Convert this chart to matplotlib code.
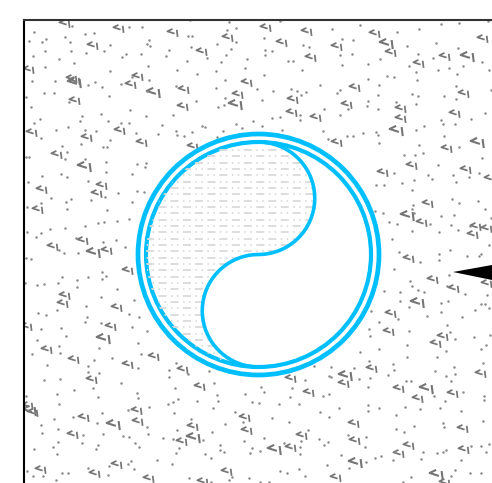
import numpy as np
import matplotlib
matplotlib.use("Agg")
import matplotlib.pyplot as plt
from matplotlib.markers import MarkerStyle
from matplotlib.patches import Circle, PathPatch, Polygon
from matplotlib.path import Path
from matplotlib.transforms import Affine2D

plt.rcParams['lines.scale_dashes'] = False

small_marks = [
    (65,23),(119,28),(93,45),(29,69),(75,80),(72,78),(138,76),(131,84),(75,100),(32,132),(87,137),(120,130),(142,142),(57,154),
    (173,32),(202,51),(228,37),(266,27),(282,42),(307,31),(311,57),(184,89),(183,106),(247,82),(238,94),(293,99),(292,112),(316,117),(193,146),
    (337,46),(375,33),(391,52),(419,63),(445,56),(483,38),(355,87),(347,104),(401,108),(401,118),(464,93),(455,113),(447,148),(337,142),
    (102,185),(97,193),(42,189),(38,209),(53,246),(83,240),(107,250),(128,270),(65,295),(63,303),(117,307),
    (412,165),(383,172),(466,169),(490,178),(428,203),(422,222),(476,226),(487,228),(473,234),(409,258),(433,279),(454,288),(487,283),(391,313),
    (27,326),(111,326),(47,349),(74,359),(128,364),(154,356),(92,379),(28,405),(33,412),(84,417),(137,410),(138,421),(73,434),(117,464),(41,469),(95,473),(149,478),
    (183,369),(200,386),(291,378),(309,392),(245,417),(193,426),(182,441),(247,430),(291,447),(302,435),(227,471),(203,481),
    (389,331),(443,336),(436,343),(372,368),(481,373),(344,383),(399,388),(418,398),(453,393),(354,423),(463,428),(355,440),(409,445),(399,453),(464,449),(336,477),(445,482),
]
large_marks = [
    (75,82),(154,92),(85,166),(236,104),(468,56),(387,43),(397,130),(478,142),(408,215),(418,302),(94,252),(104,338),(114,424),(30,410),
    (194,437),(275,449),(346,375),(427,388),(356,462),(437,474),
]
dots = [
    (34,32),(29,41),(42,42),(46,39),(65,37),(70,42),(85,34),(94,33),(72,26),(129,27),(142,27),(45,51),(71,51),(86,53),(104,51),(110,45),(122,57),(126,54),(141,54),(149,40),(147,44),(150,46),(33,56),(59,59),(74,63),(45,67),(110,71),(148,66),(32,81),(55,81),(88,85),(95,82),(102,87),(121,84),(149,80),(132,77),(44,93),(54,93),(109,96),(147,91),(26,97),(31,107),(69,102),(130,110),(82,116),(80,121),(101,114),(108,121),(121,123),(129,123),(146,116),(40,119),(34,123),(56,130),(68,127),(85,130),(96,131),(136,133),(158,134),(41,138),(81,144),(110,140),(62,146),(67,152),(103,147),(107,147),(29,157),(26,157),(65,159),(85,159),
    (227,30),(236,28),(188,36),(192,36),(236,42),(217,44),(191,47),(231,49),(169,50),(166,56),(207,58),(226,55),(187,61),(221,62),(247,59),(264,38),(265,50),(265,55),(272,51),(303,45),(309,47),(288,61),(293,61),(245,68),(177,70),(216,71),(197,74),(264,75),(302,70),(225,80),(176,86),(216,88),(257,89),(273,91),(291,89),(297,91),(301,95),(306,92),(320,85),(225,98),(262,100),(196,101),(218,107),(224,105),(173,115),(324,109),(300,115),(300,120),(280,117),(272,118),(253,121),(262,126),(236,124),(242,128),(162,125),(202,126),(205,127),(176,131),(177,135),(184,136),(192,132),(223,131),(217,137),(282,130),(323,131),(328,139),(190,20),(229,22),(280,21),
    (332,29),(360,25),(397,32),(419,29),(441,24),(459,23),(342,39),(353,40),(407,46),(436,43),(458,48),(340,55),(352,54),(380,59),(418,54),(433,58),(342,65),(368,64),(409,66),(416,72),(438,70),(449,68),(457,74),(463,66),(482,62),(489,70),(368,79),(387,76),(394,77),(417,80),(379,85),(456,86),(340,90),(337,93),(491,90),(378,95),(412,94),(418,96),(444,96),(456,99),(368,101),(367,106),(396,102),(416,104),(348,109),(378,109),(340,115),(485,113),(441,120),(443,124),(455,124),(471,119),(424,126),(416,130),(347,136),(353,136),(363,133),(376,132),(378,135),(444,136),(379,143),(419,145),(459,147),(404,155),(415,155),(423,153),(482,158),(488,21),
    (42,176),(61,174),(67,177),(28,182),(88,181),(106,162),(106,172),(132,174),(137,164),(146,163),(145,167),(137,191),(144,192),(118,193),(51,198),(66,202),(71,199),(91,200),(105,197),(132,202),(41,203),(67,209),(107,210),(27,207),(129,219),(117,221),(98,223),(104,222),(85,226),(65,228),(50,229),(27,232),(41,233),(36,237),(76,238),(116,240),(103,242),(125,247),(59,250),(64,253),(78,253),(26,258),(31,259),(102,272),(106,276),(102,279),(88,277),(62,277),(77,280),(77,287),(58,283),(44,284),(37,285),(25,283),(117,289),(101,297),(134,300),(86,306),(38,313),(46,315),(57,310),(87,317),(129,314),(139,317),
    (438,165),(394,173),(428,175),(432,179),(453,175),(456,182),(469,177),(479,173),(376,185),(384,185),(402,183),(414,180),(412,190),(452,199),(459,203),(478,201),(485,209),(413,205),(412,209),(375,211),(383,213),(414,213),(441,216),(454,215),(491,218),(389,222),(397,224),(430,224),(451,225),(470,226),(412,231),(439,232),(458,230),(392,239),(489,245),(450,250),(399,252),(439,254),(467,256),(479,256),(481,254),(439,260),(420,262),(394,269),(449,275),(410,281),(412,286),(447,286),(418,290),(424,292),(384,291),(400,292),(465,294),(487,295),(400,301),(441,303),(448,301),(409,307),(371,311),(441,312),(427,316),(481,304),(485,304),(475,310),(489,308),(462,317),(398,319),
    (41,329),(61,328),(85,322),(101,323),(132,327),(147,331),(37,340),(66,336),(59,346),(99,348),(138,343),(32,354),(60,353),(112,358),(141,354),(94,360),(47,365),(88,366),(138,368),(88,372),(99,373),(44,380),(60,379),(121,383),(93,388),(74,390),(57,394),(137,393),(138,398),(98,397),(26,396),(59,404),(149,407),(128,410),(102,413),(54,419),(73,417),(97,423),(41,425),(58,429),(147,427),(42,433),(83,435),(103,434),(123,436),(129,437),(148,434),(82,443),(58,442),(53,447),(98,445),(96,449),(135,443),(139,447),(34,449),(57,454),(157,460),(131,461),(128,464),(109,466),(134,469),(88,468),(27,471),(33,476),(43,476),(62,473),(68,473),(108,475),(56,480),
    (176,363),(169,370),(169,377),(188,374),(209,371),(214,383),(175,388),(217,395),(218,401),(178,399),(173,402),(168,404),(197,401),(213,408),(174,413),(191,419),(225,424),(235,412),(245,394),(252,402),(259,403),(261,387),(264,392),(292,388),(305,380),(314,366),(329,376),(290,397),(323,396),(329,394),(279,404),(299,404),(320,412),(329,417),(272,418),(289,422),(243,422),(177,430),(212,432),(308,430),(163,438),(173,439),(203,440),(264,438),(244,441),(301,441),(319,439),(328,442),(324,445),(179,448),(220,445),(220,450),(224,452),(252,448),(250,453),(260,451),(284,443),(300,447),(176,453),(205,454),(211,458),(300,454),(172,464),(327,465),(299,469),(280,471),(287,473),(305,476),(232,477),(229,480),(249,478),(189,478),(211,482),(260,482),(269,482),
    (369,329),(370,336),(379,322),(409,331),(447,325),(450,332),(455,339),(474,337),(490,335),(407,345),(486,345),(481,349),(446,351),(360,352),(379,349),(407,357),(437,357),(369,361),(483,363),(354,368),(393,364),(394,370),(435,371),(454,367),(455,374),(331,367),(331,377),(370,378),(388,375),(446,376),(359,379),(406,381),(411,381),(451,381),(368,387),(463,392),(434,396),(445,401),(484,396),(484,400),(368,405),(339,408),(368,411),(379,408),(405,407),(420,409),(440,408),(461,411),(396,415),(483,421),(443,423),(444,427),(396,429),(404,432),(414,426),(348,435),(366,437),(365,447),(481,446),(489,444),(471,446),(486,452),(446,450),(443,452),(437,453),(423,452),(421,459),(341,455),(375,458),(381,456),(395,452),(393,460),(366,462),(461,460),(349,468),(455,470),(470,473),(481,473),(451,476),(411,477),(403,482),
]
pointer = [(453,272),(492,265),(492,280)]

cx, cy = 258.5, 254.5
r_outer, r_inner = 120.5, 112.5
blue = '#00bfff'

fig = plt.figure(figsize=(4.92, 4.83), dpi=100)
ax = fig.add_axes([24/492, 0, 468/492, 463.5/483])
ax.set_xlim(24, 492)
ax.set_ylim(483, 19.5)
ax.set_xticks([])
ax.set_yticks([])
for side in ['right', 'bottom']:
    ax.spines[side].set_visible(False)
ax.spines['left'].set_linewidth(1.5)
ax.spines['top'].set_linewidth(1.5)
ax.spines['top'].set_color('#333333')


def mark_style(angle):
    # the little "<\" symbol
    verts = [(-0.25,0.55),(-1,0.05),(0.2,-0.15),(0.45,0.5),(0.75,-0.6)]
    codes = [Path.MOVETO, Path.LINETO, Path.LINETO, Path.MOVETO, Path.LINETO]
    return MarkerStyle(Path(verts, codes), transform=Affine2D().rotate_deg(angle))


def scatter_marks(points, size, lw):
    pts = np.array(points)
    ax.plot(pts[:, 0], pts[:, 1], ls='none', marker=mark_style(-8), ms=size, mfc='none',
            mec='#757575', mew=lw, zorder=2, clip_on=True)


scatter_marks(small_marks, 9, 1.25)
scatter_marks(large_marks, 11.5, 1.5)
pts = np.array(dots)
ax.plot(pts[:, 0], pts[:, 1], ls='none', marker='o', ms=1.8, mfc='#8a8a8a', mec='none', zorder=2)

ax.add_patch(Polygon(pointer, closed=True, fc='black', ec='none', zorder=3))

# disc and rings
ax.add_patch(Circle((cx, cy), r_outer, fc='white', ec=blue, lw=3.4, zorder=4))
ax.add_patch(Circle((cx, cy), r_inner, fc='white', ec=blue, lw=3, zorder=5))

# S curve: two half circles, then back round the left side
t1 = np.linspace(-np.pi/2, np.pi/2, 80)
upper = np.column_stack([cx + r_inner/2*np.cos(t1), cy - r_inner/2 + r_inner/2*np.sin(t1)])
t2 = np.linspace(-np.pi/2, -3*np.pi/2, 80)
lower = np.column_stack([cx + r_inner/2*np.cos(t2), cy + r_inner/2 + r_inner/2*np.sin(t2)])
t3 = np.linspace(np.pi/2, 3*np.pi/2, 120)
back = np.column_stack([cx + r_inner*np.cos(t3), cy + r_inner*np.sin(t3)])
region = PathPatch(Path(np.vstack([upper, lower, back])), fc='none', ec='none', zorder=6)
ax.add_patch(region)

# dash and dot texture of the shaded half
pattern = (5.8, 3.2, 1.1, 3.2, 1.1, 3.2)
for i, row in enumerate(np.arange(cy - r_inner + 8, cy + r_inner, 6.33)):
    offset = 0 if i % 2 == 0 else 8.6
    line, = ax.plot([cx - r_inner, cx + 60], [row, row], color='#dadada', lw=1.3, zorder=6,
                    linestyle=(offset, pattern), dash_capstyle='butt')
    line.set_clip_path(region)

curve = np.vstack([upper, lower])
ax.plot(curve[:, 0], curve[:, 1], color=blue, lw=2.6, zorder=7, solid_capstyle='round')

fig.savefig('out.png', dpi=100)
